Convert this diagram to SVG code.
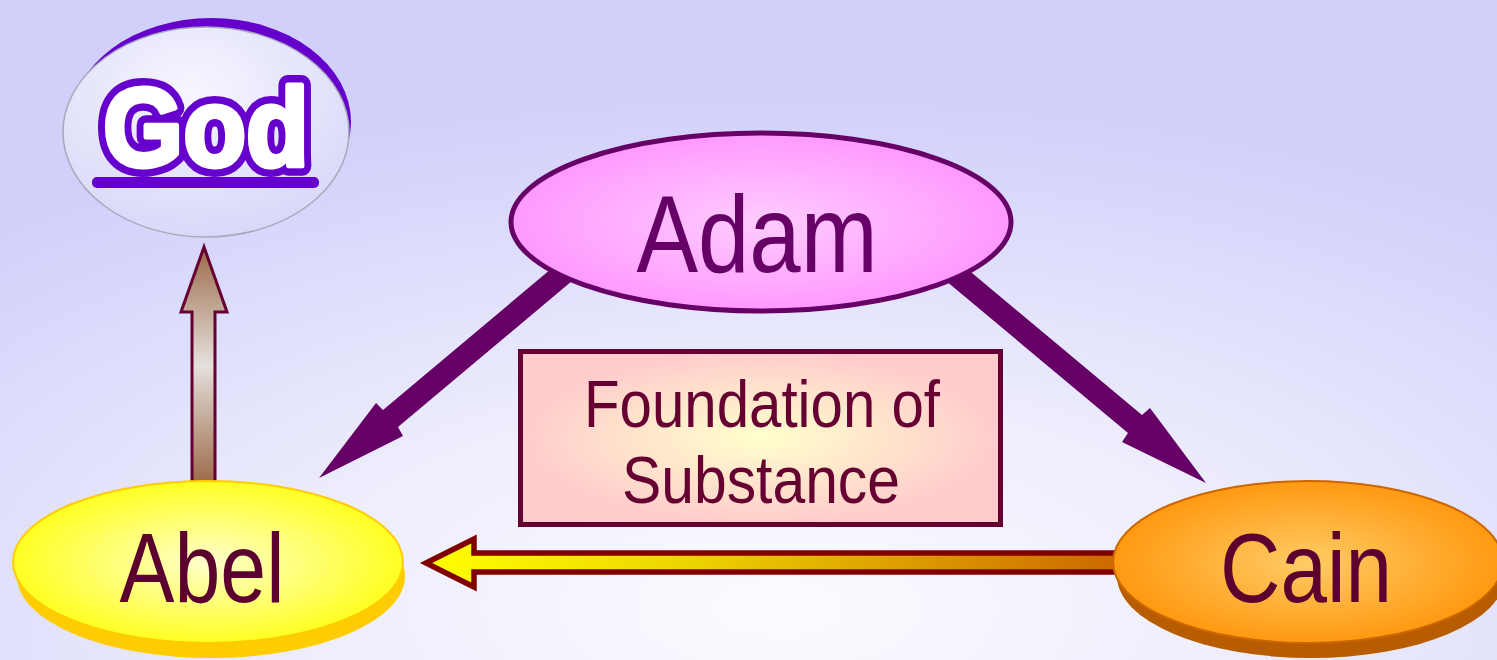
<svg xmlns="http://www.w3.org/2000/svg" width="1497" height="660" viewBox="0 0 1497 660">
<defs>
<radialGradient id="bg" cx="0.52" cy="0.92" r="0.78">
<stop offset="0" stop-color="#fbfbff"/>
<stop offset="0.4" stop-color="#eeeefd"/>
<stop offset="1" stop-color="#d0d0fb"/>
</radialGradient>
<radialGradient id="godFill" cx="0.45" cy="0.3" r="0.75">
<stop offset="0" stop-color="#f6f6ff"/>
<stop offset="1" stop-color="#d6d6f8"/>
</radialGradient>
<radialGradient id="adamFill" cx="0.5" cy="0.5" r="0.5">
<stop offset="0" stop-color="#ffccff"/>
<stop offset="1" stop-color="#ff99ff"/>
</radialGradient>
<radialGradient id="abelFill" cx="0.5" cy="0.5" r="0.5">
<stop offset="0" stop-color="#ffffcc"/>
<stop offset="1" stop-color="#ffff22"/>
</radialGradient>
<radialGradient id="cainFill" cx="0.5" cy="0.5" r="0.5">
<stop offset="0" stop-color="#ffcc66"/>
<stop offset="1" stop-color="#ff9911"/>
</radialGradient>
<radialGradient id="boxFill" cx="0.5" cy="0.5" r="0.5">
<stop offset="0" stop-color="#ffffcc"/>
<stop offset="1" stop-color="#ffcccc"/>
</radialGradient>
<linearGradient id="upFill" x1="0" y1="0" x2="0" y2="1">
<stop offset="0" stop-color="#9c6a48"/>
<stop offset="0.5" stop-color="#e4e0dc"/>
<stop offset="1" stop-color="#9c6a48"/>
</linearGradient>
<linearGradient id="leftFill" x1="0" y1="0" x2="1" y2="0">
<stop offset="0" stop-color="#ffff00"/>
<stop offset="0.35" stop-color="#eed800"/>
<stop offset="1" stop-color="#cc6600"/>
</linearGradient>
<style>
.lbl{font-family:"Liberation Sans",Arial,sans-serif;text-anchor:middle}
.big{font-size:98px;fill:#5c0030}
.box{font-size:66px;fill:#660033}
.god{font-family:"Liberation Sans",Arial,sans-serif;font-weight:bold;font-size:112px;text-anchor:middle;stroke-linejoin:round}
</style>
</defs>
<rect width="1497" height="660" fill="url(#bg)"/>

<g id="connectors">
<polygon points="319,478 376,403 383,410 574.5,249.3 589.5,266.3 398,427 403,436" fill="#660066"/>
<polygon points="1206,483 1150,408 1142,415 950.2,254.8 936.2,272.8 1128,433 1122,442" fill="#660066"/>
<polygon points="204,247 227,312 215,312 215,484 192,484 192,312 181,312" fill="url(#upFill)" stroke="#660033" stroke-width="3" stroke-linejoin="miter"/>
<polygon points="426,563 474,539 474,553 1125,553 1125,572 474,572 474,587" fill="url(#leftFill)" stroke="#800000" stroke-width="5.5" stroke-linejoin="miter"/>
</g>

<g id="node-god">
<ellipse cx="211" cy="122" rx="140" ry="104" fill="#6600cc"/>
<ellipse cx="206" cy="132" rx="143" ry="105" fill="url(#godFill)" stroke="#a8a8b8" stroke-width="1.5"/>
<text class="god" x="206" y="166" textLength="206" lengthAdjust="spacingAndGlyphs" fill="#6600cc" stroke="#6600cc" stroke-width="20">God</text>
<text class="god" x="206" y="166" textLength="206" lengthAdjust="spacingAndGlyphs" fill="#ffffff" stroke="#ffffff" stroke-width="5">God</text>
<rect x="92" y="177" width="227" height="11" rx="5" fill="#6600cc"/>
</g>

<g id="node-adam">
<ellipse cx="761" cy="222" rx="250" ry="89" fill="url(#adamFill)" stroke="#660066" stroke-width="5"/>
<text class="lbl" x="757" y="272" font-size="110" fill="#660066" textLength="241" lengthAdjust="spacingAndGlyphs">Adam</text>
</g>

<g id="node-foundation">
<rect x="520.5" y="351.5" width="480" height="173" fill="url(#boxFill)" stroke="#660033" stroke-width="5"/>
<text class="lbl box" x="762" y="427" textLength="356" lengthAdjust="spacingAndGlyphs">Foundation of</text>
<text class="lbl box" x="761" y="503" textLength="278" lengthAdjust="spacingAndGlyphs">Substance</text>
</g>

<g id="node-abel">
<ellipse cx="211" cy="576" rx="194" ry="82" fill="#ffcc00"/>
<ellipse cx="208" cy="562" rx="195" ry="81" fill="url(#abelFill)" stroke="#ffcc00" stroke-width="2"/>
<text class="lbl big" x="202" y="602" textLength="165" lengthAdjust="spacingAndGlyphs">Abel</text>
</g>

<g id="node-cain">
<ellipse cx="1311" cy="576" rx="194" ry="82" fill="#b85c00"/>
<ellipse cx="1308" cy="562" rx="195" ry="81" fill="url(#cainFill)" stroke="#cc6600" stroke-width="2"/>
<text class="lbl big" x="1306" y="602" textLength="172" lengthAdjust="spacingAndGlyphs">Cain</text>
</g>
</svg>
